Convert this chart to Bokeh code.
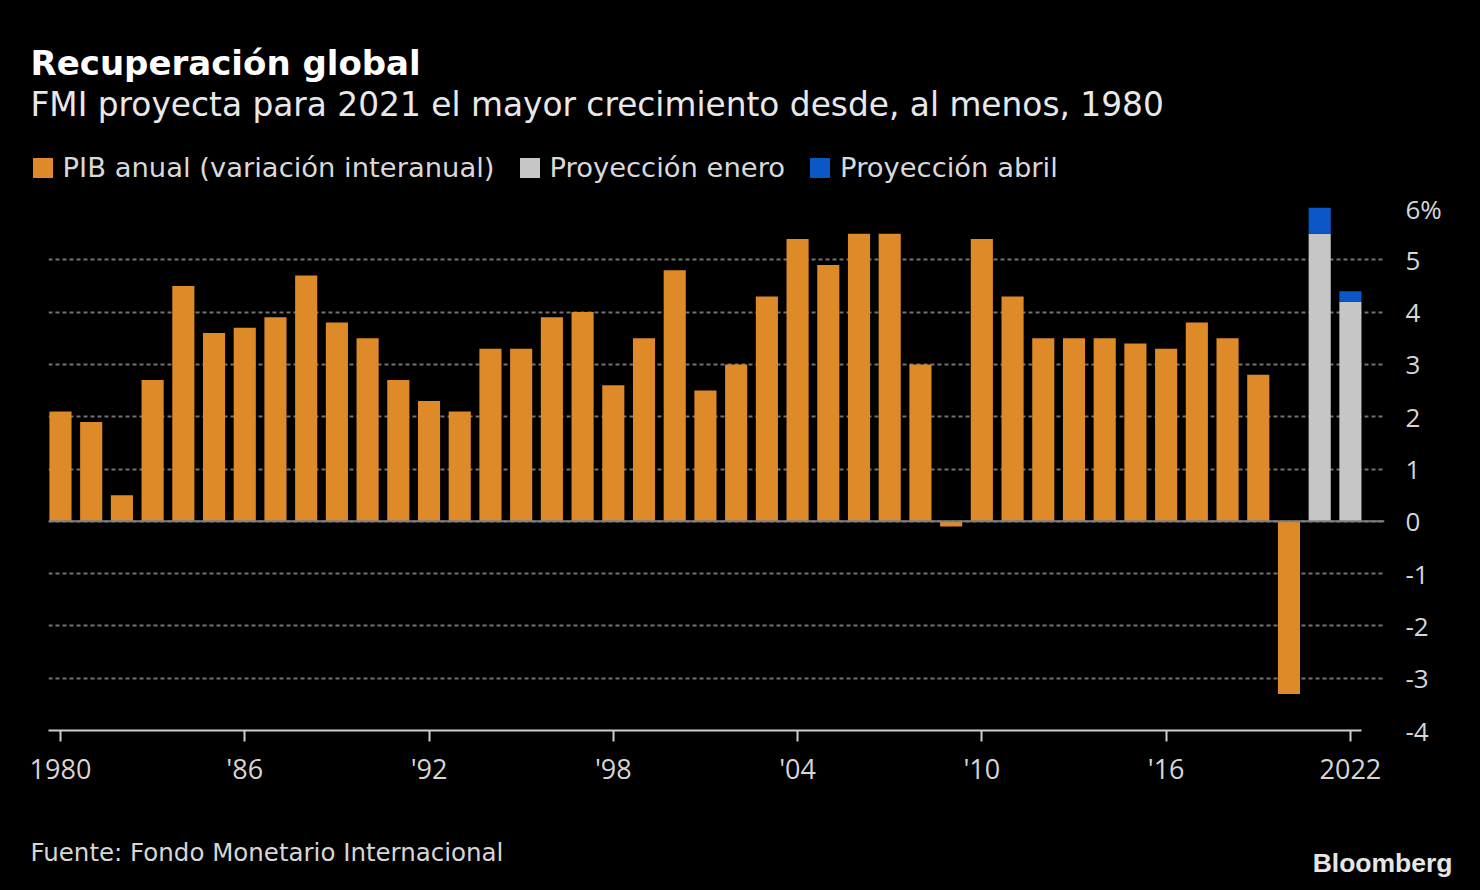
from bokeh.plotting import figure
from bokeh.models import (Range1d, FixedTicker, Span, Label, Legend, LegendItem, ColumnDataSource)
from bokeh.embed import file_html
from bokeh.resources import INLINE

# ---------------- data ----------------
years = list(range(1980, 2021))
gdp = [2.1, 1.9, 0.5, 2.7, 4.5, 3.6, 3.7, 3.9, 4.7, 3.8,
       3.5, 2.7, 2.3, 2.1, 3.3, 3.3, 3.9, 4.0, 2.6, 3.5,
       4.8, 2.5, 3.0, 4.3, 5.4, 4.9, 5.5, 5.5, 3.0, -0.1,
       5.4, 4.3, 3.5, 3.5, 3.5, 3.4, 3.3, 3.8, 3.5, 2.8,
       -3.3]
proj_years = [2021, 2022]
proj_jan = [5.5, 4.2]
proj_apr = [6.0, 4.4]

tick_years = [1980, 1986, 1992, 1998, 2004, 2010, 2016, 2022]
tick_labels = ["1980", "'86", "'92", "'98", "'04", "'10", "'16", "2022"]
y_ticks = [-4, -3, -2, -1, 0, 1, 2, 3, 4, 5, 6]
y_labels = ["-4", "-3", "-2", "-1", "0", "1", "2", "3", "4", "5", "6%"]

title = "Recuperación global"
subtitle = "FMI proyecta para 2021 el mayor crecimiento desde, al menos, 1980"
legend_labels = ["PIB anual (variación interanual)", "Proyección enero", "Proyección abril"]
source_text = "Fuente: Fondo Monetario Internacional"

# ---------------- style ----------------
BG = "#000000"
ORANGE = "#DF8A28"
GRAY = "#C6C6C6"
BLUE = "#0B57C8"
TFONT = "DejaVu Sans"
AFONT = "Open Sans"
W = 1480
H_HEAD, H_MAIN, H_FOOT = 190, 610, 90

hist = ColumnDataSource(dict(x=years, top=gdp))
proj = ColumnDataSource(dict(x=proj_years, jan=proj_jan, apr=proj_apr))


def blank(h):
    f = figure(width=W, height=h, output_backend="svg", toolbar_location=None,
               x_range=Range1d(0, W), y_range=Range1d(0, h),
               x_axis_type=None, y_axis_type=None,
               min_border=0, min_border_left=0, min_border_right=0,
               min_border_top=0, min_border_bottom=0)
    f.background_fill_color = BG
    f.border_fill_color = BG
    f.outline_line_color = None
    f.grid.visible = False
    return f


# ---------------- header (title, subtitle, legend) ----------------
head = blank(H_HEAD)
head.add_layout(Label(x=30, y=128, x_units="screen", y_units="screen", text=title,
                      text_font=TFONT, text_font_style="bold", text_font_size="34px",
                      text_color="#ffffff", text_baseline="alphabetic"))
head.add_layout(Label(x=30, y=86, x_units="screen", y_units="screen", text=subtitle,
                      text_font=TFONT, text_font_size="32.8px",
                      text_color="#e8e8e8", text_baseline="alphabetic"))
# legend swatches reuse the chart's sources; their marks fall outside this header's range
h1 = head.vbar(x="x", top="top", bottom=0, width=0.72, source=hist, fill_color=ORANGE, line_color=None)
h2 = head.vbar(x="x", top="jan", bottom=0, width=0.72, source=proj, fill_color=GRAY, line_color=None)
h3 = head.vbar(x="x", top="apr", bottom="jan", width=0.72, source=proj, fill_color=BLUE, line_color=None)
legend = Legend(items=[LegendItem(label=legend_labels[0], renderers=[h1], index=0),
                       LegendItem(label=legend_labels[1], renderers=[h2], index=0),
                       LegendItem(label=legend_labels[2], renderers=[h3], index=0)],
                orientation="horizontal", location=(29.6, 7),
                label_text_font=TFONT, label_text_font_size="27.4px", label_text_color="#d9d9d9",
                glyph_width=25, glyph_height=25, label_height=25, label_standoff=8, spacing=22,
                padding=0, margin=0, border_line_color=None, background_fill_alpha=0)
head.add_layout(legend)

# ---------------- main chart ----------------
p = figure(width=W, height=H_MAIN, output_backend="svg", toolbar_location=None,
           x_range=Range1d(1979.61, 2023.11), y_range=Range1d(-4, 6),
           y_axis_location="right",
           min_border_left=48, min_border_right=W - 1384,
           min_border_top=207 - H_HEAD, min_border_bottom=H_HEAD + H_MAIN - 730)
p.background_fill_color = BG
p.border_fill_color = BG
p.outline_line_color = None

p.vbar(x="x", top="top", bottom=0, width=0.72, source=hist, fill_color=ORANGE, line_color=None)
p.vbar(x="x", top="jan", bottom=0, width=0.72, source=proj, fill_color=GRAY, line_color=None)
p.vbar(x="x", top="apr", bottom="jan", width=0.72, source=proj, fill_color=BLUE, line_color=None)

p.xgrid.visible = False
p.ygrid.ticker = FixedTicker(ticks=y_ticks)
p.ygrid.grid_line_color = "#737373"
p.ygrid.grid_line_dash = "4 3"
p.ygrid.grid_line_width = 2
p.ygrid.level = "underlay"

p.add_layout(Span(location=0, dimension="width", line_color="#808080", line_width=2))

xa = p.xaxis[0]
xa.ticker = FixedTicker(ticks=tick_years)
xa.major_label_overrides = {y: l for y, l in zip(tick_years, tick_labels)}
xa.bounds = (1979.61, 2022.36)
xa.axis_line_color = "#cfcfcf"
xa.axis_line_width = 2
xa.major_tick_line_color = "#cfcfcf"
xa.major_tick_line_width = 2
xa.major_tick_in = 0
xa.major_tick_out = 11
xa.minor_tick_line_color = None
xa.major_label_text_color = "#d6d6d6"
xa.major_label_text_font = AFONT
xa.major_label_text_font_size = "27px"
xa.major_label_standoff = 8

ya = p.yaxis[0]
ya.ticker = FixedTicker(ticks=y_ticks)
ya.major_label_overrides = {t: l for t, l in zip(y_ticks, y_labels)}
ya.axis_line_color = None
ya.major_tick_line_color = None
ya.minor_tick_line_color = None
ya.major_tick_in = 0
ya.major_tick_out = 0
ya.major_label_standoff = 21
ya.major_label_text_color = "#d6d6d6"
ya.major_label_text_font = AFONT
ya.major_label_text_font_size = "26px"

# ---------------- footer ----------------
foot = blank(H_FOOT)
foot.add_layout(Label(x=30, y=38, x_units="screen", y_units="screen", text=source_text,
                      text_font=TFONT, text_font_size="24.5px",
                      text_color="#d6d6d6", text_baseline="alphabetic"))
foot.add_layout(Label(x=1452, y=28, x_units="screen", y_units="screen", text="Bloomberg",
                      text_font="Liberation Sans", text_font_style="bold", text_font_size="26.5px",
                      text_color="#e6e6e6", text_baseline="alphabetic", text_align="right"))

html = file_html([head, p, foot], INLINE)
html = html.replace("<head>", "<head><style>html, body {background-color: #000000;}</style>", 1)
open("out.html", "w").write(html)
